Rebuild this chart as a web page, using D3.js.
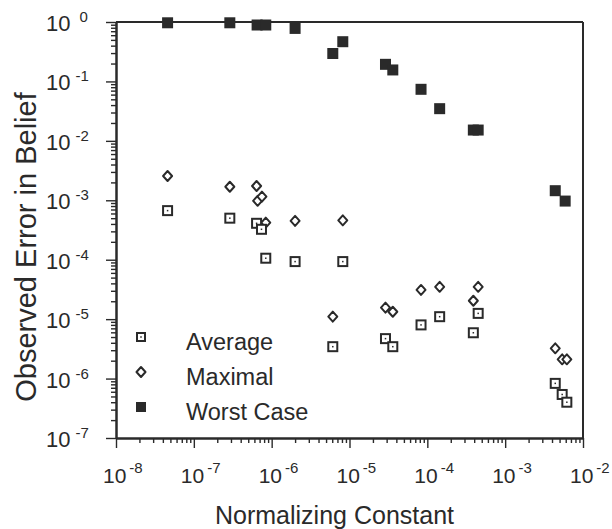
<!DOCTYPE html>
<html><head><meta charset="utf-8">
<script src="https://cdn.jsdelivr.net/npm/d3@7"></script>
<style>
html,body{margin:0;padding:0;background:#fff;}
svg{display:block;font-family:"Liberation Sans",Arial,Helvetica,sans-serif;}
</style></head>
<body><svg id="chart" width="612" height="529"></svg>
<script>
// ---- data ----
const xDecades = [-8, -7, -6, -5, -4, -3, -2];
const yDecades = [-7, -6, -5, -4, -3, -2, -1, 0];

const worstX = [4.6e-8, 2.9e-7, 6.5e-7, 8.4e-7, 2.0e-6, 6.1e-6, 8.2e-6, 2.9e-5, 3.6e-5, 8.3e-5, 1.44e-4, 3.9e-4, 4.5e-4, 4.4e-3, 5.9e-3];
const worstY = [0.97, 0.97, 0.89, 0.89, 0.78, 0.295, 0.466, 0.194, 0.156, 0.0737, 0.0348, 0.0152, 0.0152, 1.45e-3, 9.7e-4];

const maxX = [4.6e-8, 2.9e-7, 6.4e-7, 6.6e-7, 7.5e-7, 8.4e-7, 2.0e-6, 8.2e-6, 6.1e-6, 2.9e-5, 3.6e-5, 8.3e-5, 1.44e-4, 3.9e-4, 4.5e-4, 4.4e-3, 5.4e-3, 6.2e-3];
const maxY = [2.56e-3, 1.69e-3, 1.74e-3, 9.8e-4, 1.15e-3, 4.2e-4, 4.5e-4, 4.6e-4, 1.1e-5, 1.56e-5, 1.33e-5, 3.1e-5, 3.5e-5, 2.04e-5, 3.5e-5, 3.23e-6, 2.11e-6, 2.11e-6];

const avgX = [4.6e-8, 2.9e-7, 6.4e-7, 7.4e-7, 8.4e-7, 2.0e-6, 8.2e-6, 6.1e-6, 2.9e-5, 3.6e-5, 8.3e-5, 1.44e-4, 3.9e-4, 4.5e-4, 4.4e-3, 5.4e-3, 6.2e-3];
const avgY = [6.7e-4, 5.0e-4, 4.1e-4, 3.25e-4, 1.06e-4, 9.3e-5, 9.3e-5, 3.44e-6, 4.7e-6, 3.44e-6, 8.0e-6, 1.1e-5, 5.9e-6, 1.25e-5, 8.3e-7, 5.4e-7, 4.0e-7];

const legendLabels = ["Average", "Maximal", "Worst Case"];
const xTitle = "Normalizing Constant";
const yTitle = "Observed Error in Belief";

// ---- layout ----
const svg = d3.select("#chart");
const L = 116, R = 583, T = 22, B = 438;
const ink = "#2a2a2a";

const x = d3.scaleLog().domain([1e-8, 1e-2]).range([L, R]);
const y = d3.scaleLog().domain([1e-7, 1]).range([B, T]);

const majorX = xDecades.map(d => Math.pow(10, d));
const majorY = yDecades.map(d => Math.pow(10, d));
const minorOf = decs => {
  const out = [];
  decs.slice(0, -1).forEach(d => { for (let m = 2; m <= 9; m++) out.push(m * Math.pow(10, d)); });
  return out;
};

function styleAxis(g) {
  g.selectAll("path").attr("stroke", ink).attr("stroke-width", 2);
  g.selectAll("line").attr("stroke", ink).attr("stroke-width", 1.4);
}

// bottom axis
svg.append("g").attr("transform", `translate(0,${B})`)
  .call(d3.axisBottom(x).tickValues(minorOf(xDecades)).tickSize(5).tickSizeOuter(0).tickFormat(""))
  .call(styleAxis);
svg.append("g").attr("transform", `translate(0,${B})`)
  .call(d3.axisBottom(x).tickValues(majorX).tickSize(10).tickSizeOuter(0).tickFormat(""))
  .call(styleAxis);
// left axis
svg.append("g").attr("transform", `translate(${L},0)`)
  .call(d3.axisLeft(y).tickValues(minorOf(yDecades)).tickSize(5).tickSizeOuter(0).tickFormat(""))
  .call(styleAxis);
svg.append("g").attr("transform", `translate(${L},0)`)
  .call(d3.axisLeft(y).tickValues(majorY).tickSize(10).tickSizeOuter(0).tickFormat(""))
  .call(styleAxis);
// frame top & right
svg.append("line").attr("x1", L).attr("x2", R).attr("y1", T).attr("y2", T).attr("stroke", ink).attr("stroke-width", 2);
svg.append("line").attr("x1", R).attr("x2", R).attr("y1", T).attr("y2", B).attr("stroke", ink).attr("stroke-width", 2);

// tick labels
const xl = svg.append("g").attr("fill", ink);
xDecades.forEach(d => {
  const t = xl.append("text").attr("x", x(Math.pow(10, d)) - 13).attr("y", 483).attr("font-size", 21);
  t.append("tspan").text("10");
  t.append("tspan").attr("dx", 3).attr("dy", -10).attr("font-size", 15).text(String(d));
});
const yl = svg.append("g").attr("fill", ink);
yDecades.forEach(d => {
  const t = yl.append("text").attr("x", 46).attr("y", y(Math.pow(10, d)) + 9).attr("font-size", 22);
  t.append("tspan").text("10");
  t.append("tspan").attr("dx", d === 0 ? 9 : 5).attr("dy", -9).attr("font-size", 15).text(String(d));
});

// titles
svg.append("text").attr("x", (L + R) / 2 - 15).attr("y", 524).attr("text-anchor", "middle")
  .attr("font-size", 25).attr("fill", ink).text(xTitle);
svg.append("text").attr("transform", `translate(36,${(77 + 417) / 2}) rotate(-90)`).attr("text-anchor", "middle")
  .attr("font-size", 29).attr("fill", ink).text(yTitle);

// markers
const diamond = "M0,-5L4.5,0L0,5L-4.5,0Z";
function drawWorst(g, px, py, s) {
  g.append("rect").attr("x", px - s / 2).attr("y", py - s / 2).attr("width", s).attr("height", s).attr("fill", ink);
}
function drawMax(g, px, py) {
  g.append("path").attr("d", diamond).attr("transform", `translate(${px},${py})`)
    .attr("fill", "#fff").attr("stroke", ink).attr("stroke-width", 2).attr("stroke-linejoin", "round");
}
function drawAvg(g, px, py, s) {
  g.append("rect").attr("x", px - s / 2).attr("y", py - s / 2).attr("width", s).attr("height", s)
    .attr("fill", "#fff").attr("stroke", ink).attr("stroke-width", 2);
  g.append("rect").attr("x", px - 0.75).attr("y", py - 0.75).attr("width", 1.5).attr("height", 1.5).attr("fill", ink);
}

const gW = svg.append("g");
worstX.forEach((v, i) => drawWorst(gW, x(v), y(worstY[i]), 11));
const gM = svg.append("g");
maxX.forEach((v, i) => drawMax(gM, x(v), y(maxY[i])));
const gA = svg.append("g");
avgX.forEach((v, i) => drawAvg(gA, x(v), y(avgY[i]), 9));

// legend
const lg = svg.append("g");
const ly = [337, 372, 407];
drawAvg(lg, 141, ly[0], 8);
drawMax(lg, 141, ly[1]);
drawWorst(lg, 141, ly[2], 10);
legendLabels.forEach((s, i) => {
  lg.append("text").attr("x", 186).attr("y", ly[i] + 5 + (i === 0 ? 0 : 0) + 0)
    .attr("dy", "0.35em").attr("font-size", 23.5).attr("fill", ink).text(s);
});
</script>
</body></html>
